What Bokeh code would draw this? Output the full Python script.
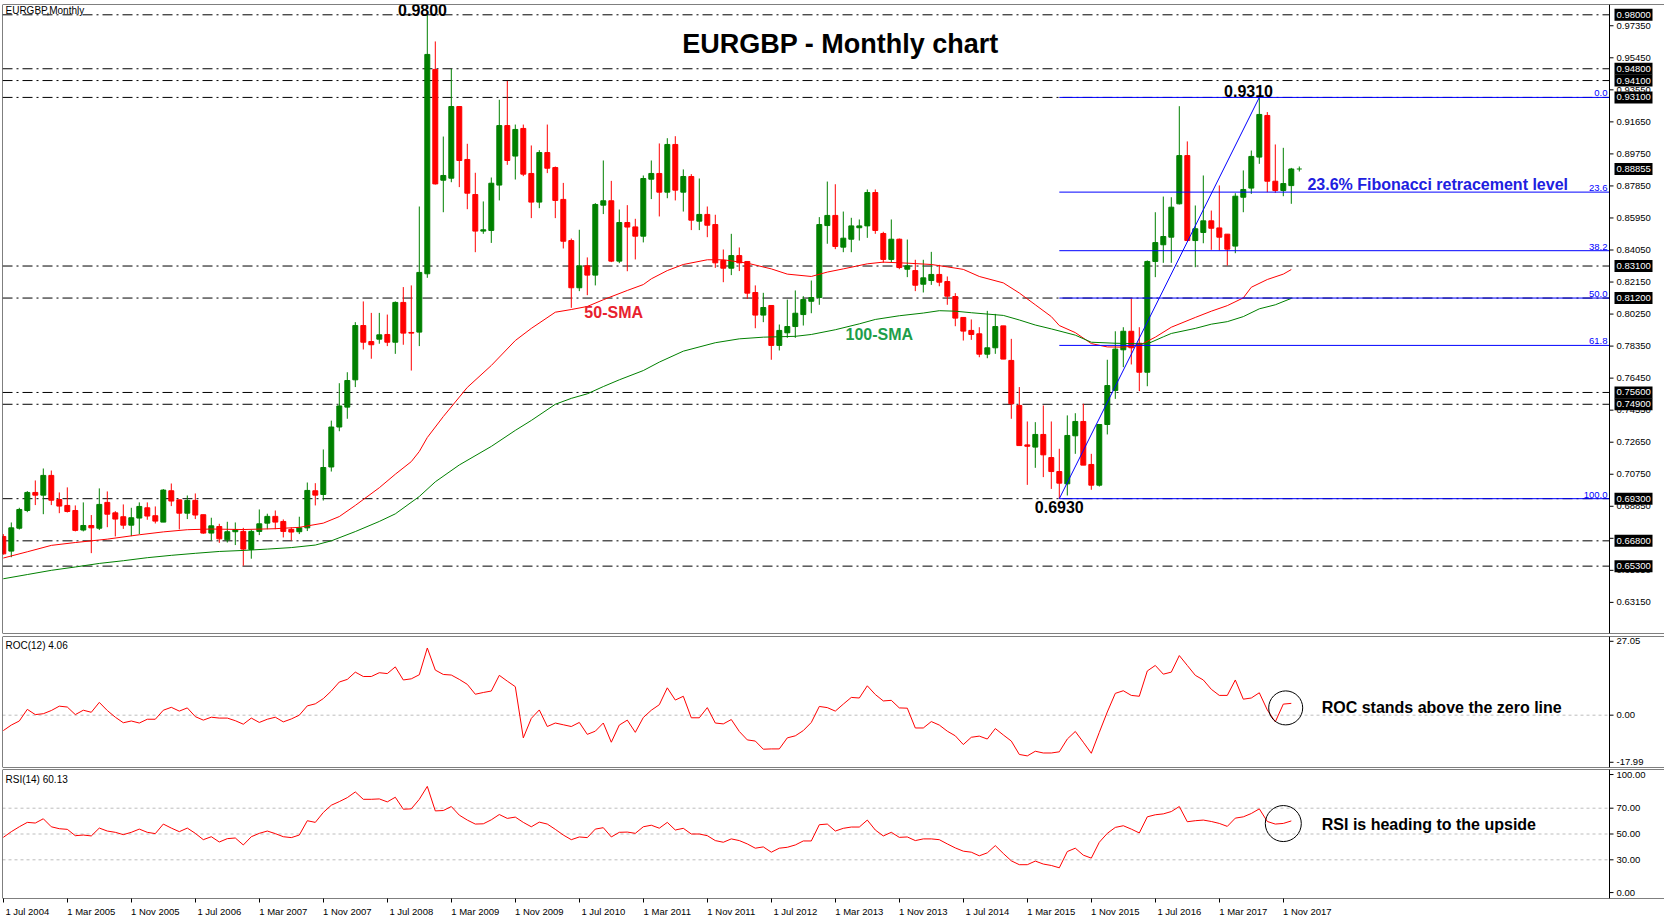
from bokeh.plotting import figure
from bokeh.models import ColumnDataSource, FixedTicker, Label, Span, Range1d
from bokeh.layouts import column
from bokeh.embed import file_html
from bokeh.resources import INLINE
from bokeh.core.properties import value

# ---------------- data (monthly EURGBP, Jul 2004 .. Dec 2017) ----------------
open_ = [0.6706, 0.6619, 0.6755, 0.6860, 0.6967, 0.6951, 0.7068, 0.6925, 0.6890, 0.6860,
         0.6744, 0.6771, 0.6755, 0.6908, 0.6846, 0.6823, 0.6773, 0.6815, 0.6876, 0.6829,
         0.6791, 0.6977, 0.6923, 0.6844, 0.6920, 0.6835, 0.6726, 0.6765, 0.6686, 0.6734,
         0.6736, 0.6629, 0.6736, 0.6785, 0.6825, 0.6795, 0.6748, 0.6734, 0.6757, 0.6977,
         0.6955, 0.7118, 0.7355, 0.7473, 0.7635, 0.7957, 0.7862, 0.7876, 0.7904, 0.7858,
         0.8094, 0.7916, 0.7918, 0.8264, 0.9476, 0.8819, 0.8831, 0.9256, 0.8942, 0.8734,
         0.8517, 0.8521, 0.8790, 0.9143, 0.8962, 0.9126, 0.8859, 0.8689, 0.8983, 0.8894,
         0.8705, 0.8461, 0.8181, 0.8311, 0.8256, 0.8671, 0.8697, 0.8339, 0.8568, 0.8542,
         0.8487, 0.8825, 0.8859, 0.8748, 0.9031, 0.8748, 0.8841, 0.8576, 0.8616, 0.8556,
         0.8343, 0.8297, 0.8372, 0.8337, 0.8153, 0.8019, 0.8076, 0.7839, 0.7914, 0.7951,
         0.8022, 0.8101, 0.8123, 0.8550, 0.8610, 0.8422, 0.8469, 0.8537, 0.8548, 0.8746,
         0.8503, 0.8349, 0.8469, 0.8291, 0.8283, 0.8202, 0.8224, 0.8260, 0.8218, 0.8129,
         0.8005, 0.7928, 0.7908, 0.7787, 0.7825, 0.7955, 0.7750, 0.7483, 0.7249, 0.7236,
         0.7311, 0.7174, 0.7091, 0.7018, 0.7303, 0.7388, 0.7133, 0.7010, 0.7370, 0.7572,
         0.7813, 0.7923, 0.7852, 0.7680, 0.8337, 0.8436, 0.8481, 0.8679, 0.8965, 0.8461,
         0.8509, 0.8578, 0.8536, 0.8499, 0.8428, 0.8718, 0.8772, 0.8956, 0.9203, 0.8813,
         0.8758, 0.8787]
high = [0.6720, 0.6789, 0.6876, 0.6975, 0.7038, 0.7109, 0.7097, 0.6967, 0.6997, 0.6890,
        0.6908, 0.6833, 0.6991, 0.6973, 0.6856, 0.6896, 0.6876, 0.6908, 0.6908, 0.6884,
        0.6987, 0.7020, 0.6923, 0.6949, 0.6961, 0.6835, 0.6817, 0.6781, 0.6793, 0.6789,
        0.6757, 0.6746, 0.6866, 0.6841, 0.6860, 0.6807, 0.6759, 0.6823, 0.7026, 0.7022,
        0.7222, 0.7393, 0.7615, 0.7680, 0.7977, 0.8100, 0.8032, 0.8032, 0.8022, 0.8100,
        0.8185, 0.8195, 0.8663, 0.9800, 0.9642, 0.9078, 0.9480, 0.9256, 0.9035, 0.8863,
        0.8693, 0.8835, 0.9296, 0.9408, 0.9149, 0.9149, 0.9025, 0.8997, 0.9149, 0.8900,
        0.8803, 0.8473, 0.8525, 0.8361, 0.8683, 0.8936, 0.8815, 0.8645, 0.8671, 0.8590,
        0.8847, 0.8936, 0.9037, 0.9068, 0.9080, 0.8883, 0.8855, 0.8829, 0.8663, 0.8614,
        0.8408, 0.8501, 0.8420, 0.8337, 0.8195, 0.8151, 0.8076, 0.7963, 0.8111, 0.8165,
        0.8131, 0.8224, 0.8600, 0.8811, 0.8795, 0.8633, 0.8596, 0.8586, 0.8764, 0.8764,
        0.8513, 0.8586, 0.8473, 0.8467, 0.8347, 0.8347, 0.8394, 0.8317, 0.8248, 0.8149,
        0.8005, 0.7993, 0.7947, 0.8044, 0.8026, 0.7955, 0.7878, 0.7592, 0.7388, 0.7384,
        0.7483, 0.7388, 0.7226, 0.7424, 0.7437, 0.7493, 0.7196, 0.7370, 0.7754, 0.7923,
        0.7947, 0.8119, 0.7947, 0.8343, 0.8629, 0.8722, 0.8718, 0.9258, 0.9049, 0.8669,
        0.8847, 0.8639, 0.8788, 0.8499, 0.8742, 0.8877, 0.8995, 0.9310, 0.9223, 0.9031,
        0.9011, 0.8892]
low = [0.6598, 0.6583, 0.6747, 0.6850, 0.6892, 0.6838, 0.6892, 0.6844, 0.6848, 0.6736,
       0.6736, 0.6607, 0.6744, 0.6761, 0.6706, 0.6751, 0.6708, 0.6720, 0.6805, 0.6783,
       0.6791, 0.6886, 0.6748, 0.6809, 0.6809, 0.6722, 0.6682, 0.6668, 0.6670, 0.6655,
       0.6532, 0.6574, 0.6714, 0.6749, 0.6749, 0.6700, 0.6682, 0.6720, 0.6738, 0.6890,
       0.6919, 0.7091, 0.7330, 0.7404, 0.7592, 0.7815, 0.7760, 0.7849, 0.7835, 0.7789,
       0.7843, 0.7690, 0.7835, 0.8240, 0.8793, 0.8629, 0.8807, 0.8778, 0.8647, 0.8392,
       0.8501, 0.8447, 0.8699, 0.8910, 0.8823, 0.8843, 0.8594, 0.8653, 0.8861, 0.8594,
       0.8414, 0.8062, 0.8161, 0.8137, 0.8195, 0.8618, 0.8333, 0.8327, 0.8279, 0.8349,
       0.8450, 0.8707, 0.8604, 0.8712, 0.8699, 0.8633, 0.8523, 0.8523, 0.8481, 0.8299,
       0.8214, 0.8256, 0.8280, 0.8115, 0.7941, 0.7977, 0.7754, 0.7809, 0.7884, 0.7884,
       0.7957, 0.8030, 0.8080, 0.8442, 0.8410, 0.8392, 0.8392, 0.8461, 0.8477, 0.8501,
       0.8329, 0.8329, 0.8291, 0.8244, 0.8161, 0.8153, 0.8198, 0.8190, 0.8080, 0.7953,
       0.7868, 0.7872, 0.7769, 0.7763, 0.7789, 0.7758, 0.7404, 0.7245, 0.7012, 0.7113,
       0.7058, 0.6988, 0.6930, 0.6949, 0.7196, 0.7129, 0.6983, 0.7002, 0.7311, 0.7522,
       0.7710, 0.7726, 0.7568, 0.7597, 0.8244, 0.8329, 0.8329, 0.8675, 0.8461, 0.8303,
       0.8445, 0.8406, 0.8402, 0.8313, 0.8386, 0.8629, 0.8738, 0.8916, 0.8748, 0.8744,
       0.8724, 0.8679]
close = [0.6603, 0.6757, 0.6866, 0.6967, 0.6951, 0.7068, 0.6921, 0.6886, 0.6854, 0.6742,
         0.6771, 0.6757, 0.6896, 0.6838, 0.6809, 0.6773, 0.6817, 0.6884, 0.6827, 0.6797,
         0.6981, 0.6916, 0.6844, 0.6920, 0.6833, 0.6726, 0.6769, 0.6692, 0.6734, 0.6746,
         0.6631, 0.6736, 0.6781, 0.6825, 0.6791, 0.6736, 0.6732, 0.6757, 0.6979, 0.6951,
         0.7115, 0.7355, 0.7480, 0.7631, 0.7957, 0.7858, 0.7843, 0.7902, 0.7858, 0.8094,
         0.7912, 0.7912, 0.8272, 0.9565, 0.8797, 0.8847, 0.9256, 0.8936, 0.8742, 0.8517,
         0.8525, 0.8801, 0.9143, 0.8936, 0.9120, 0.8855, 0.8689, 0.8983, 0.8890, 0.8699,
         0.8457, 0.8181, 0.8311, 0.8256, 0.8675, 0.8697, 0.8339, 0.8568, 0.8541, 0.8487,
         0.8829, 0.8859, 0.8748, 0.9031, 0.8760, 0.8841, 0.8582, 0.8616, 0.8552, 0.8329,
         0.8297, 0.8372, 0.8329, 0.8149, 0.8019, 0.8064, 0.7839, 0.7928, 0.7951, 0.8030,
         0.8111, 0.8123, 0.8556, 0.8610, 0.8426, 0.8475, 0.8548, 0.8548, 0.8746, 0.8521,
         0.8349, 0.8469, 0.8301, 0.8311, 0.8196, 0.8240, 0.8260, 0.8214, 0.8131, 0.8001,
         0.7924, 0.7904, 0.7787, 0.7825, 0.7951, 0.7758, 0.7493, 0.7245, 0.7241, 0.7311,
         0.7190, 0.7091, 0.7022, 0.7305, 0.7388, 0.7129, 0.7010, 0.7370, 0.7601, 0.7817,
         0.7923, 0.7825, 0.7680, 0.8337, 0.8449, 0.8485, 0.8659, 0.8965, 0.8461, 0.8531,
         0.8578, 0.8534, 0.8481, 0.8410, 0.8724, 0.8764, 0.8960, 0.9209, 0.8813, 0.8758,
         0.8799, 0.88855]

# 50-SMA and 100-SMA (month index, value)
sma50_month = [0, 3, 6, 9, 13, 17, 20, 23, 26, 30, 34, 37, 40, 42, 44, 47, 49, 51, 52, 53,
               55, 58, 61, 64, 66, 69, 71, 73, 75, 78, 80, 81, 83, 85, 88, 90, 93, 96, 98, 101,
               103, 105, 108, 110, 113, 116, 118, 120, 122, 125, 127, 129, 131, 132, 134, 136,
               138, 140, 142, 144, 146, 149, 151, 153, 155, 156, 158, 160, 161]
sma50_value = [0.6578, 0.6615, 0.6653, 0.6670, 0.6690, 0.6716, 0.6733, 0.6746, 0.6750, 0.6747,
               0.6752, 0.6760, 0.6785, 0.6824, 0.6890, 0.6995, 0.7075, 0.7150, 0.7210, 0.7293,
               0.7417, 0.7590, 0.7720, 0.7868, 0.7940, 0.8036, 0.8052, 0.8070, 0.8110, 0.8165,
               0.8200, 0.8234, 0.8283, 0.8319, 0.8347, 0.8347, 0.8327, 0.8293, 0.8262, 0.8248,
               0.8274, 0.8293, 0.8323, 0.8333, 0.8327, 0.8319, 0.8305, 0.8290, 0.8248, 0.8210,
               0.8150, 0.8080, 0.8010, 0.7957, 0.7915, 0.7850, 0.7830, 0.7829, 0.7839, 0.7888,
               0.7947, 0.8005, 0.8042, 0.8075, 0.8121, 0.8184, 0.8230, 0.8262, 0.8289]
sma100_month = [0, 3, 6, 9, 12, 15, 18, 21, 24, 27, 30, 33, 36, 39, 41, 44, 47, 49, 52, 54,
                57, 61, 64, 66, 69, 71, 73, 75, 77, 80, 82, 85, 89, 92, 95, 99, 101, 104, 107,
                109, 112, 115, 117, 119, 121, 125, 127, 129, 131, 134, 136, 139, 143, 145, 146,
                149, 151, 153, 155, 157, 159, 161]
sma100_value = [0.6455, 0.6480, 0.6505, 0.6525, 0.6546, 0.6562, 0.6580, 0.6594, 0.6606, 0.6617,
                0.6623, 0.6631, 0.6640, 0.6655, 0.6680, 0.6735, 0.6795, 0.6840, 0.6943, 0.7030,
                0.7130, 0.7240, 0.7335, 0.7394, 0.7490, 0.7525, 0.7552, 0.7595, 0.7635, 0.7690,
                0.7740, 0.7805, 0.7855, 0.7878, 0.7888, 0.7893, 0.7904, 0.7932, 0.7967, 0.7993,
                0.8015, 0.8031, 0.8045, 0.8042, 0.8033, 0.8017, 0.7990, 0.7960, 0.7937, 0.7900,
                0.7858, 0.7852, 0.7848, 0.7890, 0.7910, 0.7940, 0.7965, 0.7980, 0.8010, 0.8056,
                0.8080, 0.8118]

roc12 = [-5.3, -3.4, -2.0, 2.0, 0.2, 0.5, 1.6, 3.1, 2.8, 0.2,
         1.7, 1.0, 4.4, 1.6, -0.7, -2.6, -2.0, -2.7, -1.4, -1.4,
         1.7, 2.7, 1.4, 2.5, -0.5, -1.7, -0.7, -1.0, -1.0, -1.9,
         -3.1, -1.0, -2.5, -1.4, -0.7, -2.3, -1.3, 0.0, 3.2, 3.9,
         5.7, 8.3, 11.4, 12.3, 14.8, 13.3, 13.3, 14.6, 14.3, 16.6,
         12.1, 12.5, 13.9, 23.1, 15.5, 14.0, 13.8, 12.3, 10.6, 7.2,
         7.8, 8.3, 13.7, 11.7, 9.8, -7.8, -1.1, 1.8, -3.9, -2.7,
         -3.3, -3.9, -2.5, -6.6, -5.5, -2.7, -9.3, -3.4, -1.7, -5.9,
         -0.8, 1.7, 3.6, 9.4, 5.2, 6.5, -0.9, -0.9, 2.6, -2.7,
         -3.0, -1.5, -5.6, -8.5, -8.9, -11.7, -11.6, -11.6, -7.8, -7.1,
         -5.3, -2.5, 3.0, 2.6, 1.4, 3.8, 6.1, 5.9, 10.1, 7.1,
         4.9, 5.1, 2.5, 2.4, -4.4, -4.4, -2.2, -3.4, -5.5, -7.1,
         -10.1, -7.6, -7.2, -8.2, -4.6, -6.8, -8.9, -13.5, -14.0, -12.4,
         -13.0, -13.0, -12.6, -8.2, -5.6, -9.3, -13.1, -5.9, 1.1, 7.5,
         8.4, 6.8, 6.5, 15.2, 17.1, 14.1, 14.8, 20.5, 17.1, 13.7,
         12.1, 8.9, 6.8, 6.8, 12.1, 5.5, 5.9, 7.7, 1.8, -2.3,
         3.8, 4.06]
rsi14 = [47.4, 51.8, 55.6, 59.0, 58.5, 61.8, 55.6, 54.1, 53.6, 48.7,
         49.2, 48.5, 54.6, 52.3, 51.3, 49.5, 51.3, 53.8, 51.3, 50.3,
         57.7, 54.6, 51.8, 54.6, 50.5, 45.6, 47.9, 43.8, 46.4, 46.9,
         41.5, 47.9, 50.5, 52.3, 50.3, 47.9, 47.2, 49.2, 60.3, 59.0,
         66.7, 72.3, 75.1, 78.2, 82.6, 76.9, 76.9, 77.2, 74.9, 78.5,
         69.2, 69.5, 76.9, 86.9, 67.9, 68.2, 71.3, 64.6, 60.8, 57.7,
         57.9, 61.0, 65.1, 62.1, 63.1, 59.0, 55.6, 59.2, 57.7, 53.6,
         49.2, 45.6, 47.7, 47.2, 53.8, 54.9, 47.7, 51.3, 51.5, 50.5,
         55.6, 56.8, 54.5, 59.0, 53.1, 54.4, 50.0, 50.0, 48.7, 44.9,
         43.6, 46.2, 44.9, 42.3, 39.0, 40.0, 35.9, 39.0, 39.7, 41.5,
         44.6, 44.6, 57.2, 57.7, 52.3, 54.4, 55.4, 55.4, 60.8, 53.1,
         48.5, 51.3, 47.4, 47.7, 44.9, 46.2, 46.2, 45.6, 42.3, 39.2,
         36.7, 35.9, 33.1, 35.4, 41.0, 34.9, 29.2, 26.2, 26.2, 29.0,
         26.7, 25.6, 23.8, 36.4, 39.0, 33.6, 31.3, 43.6, 50.5, 55.1,
         56.4, 53.8, 50.8, 63.3, 64.9, 65.6, 67.4, 71.3, 59.5, 60.3,
         60.8, 59.7, 58.2, 55.9, 62.3, 63.3, 65.9, 69.5, 59.7, 57.7,
         58.2, 60.13]

date_tick_month = [0, 8, 16, 24, 32, 40, 48, 56, 64, 72, 80, 88, 96, 104, 112, 120, 128,
                   136, 144, 152, 160]
date_tick_label = ["1 Jul 2004", "1 Mar 2005", "1 Nov 2005", "1 Jul 2006", "1 Mar 2007",
                   "1 Nov 2007", "1 Jul 2008", "1 Mar 2009", "1 Nov 2009", "1 Jul 2010",
                   "1 Mar 2011", "1 Nov 2011", "1 Jul 2012", "1 Mar 2013", "1 Nov 2013",
                   "1 Jul 2014", "1 Mar 2015", "1 Nov 2015", "1 Jul 2016", "1 Mar 2017",
                   "1 Nov 2017"]
price_ticks = [0.9735, 0.9545, 0.9355, 0.9165, 0.8975, 0.8785, 0.8595, 0.8405, 0.8215,
               0.8025, 0.7835, 0.7645, 0.7455, 0.7265, 0.7075, 0.6885, 0.6695, 0.6505, 0.6315]
key_levels = [0.9800, 0.9480, 0.9410, 0.9310, 0.8310, 0.8120, 0.7560, 0.7490, 0.6930,
              0.6680, 0.6530]
boxed_prices = [0.98000, 0.94800, 0.94100, 0.93100, 0.88855, 0.83100, 0.81200, 0.75600,
                0.74900, 0.69300, 0.66800, 0.65300]
fib_pct = [0.0, 23.6, 38.2, 50.0, 61.8, 100.0]
swing_low, swing_high = 0.6930, 0.9310
swing_low_idx, swing_high_idx = 132, 157
roc_scale_pos = [25.4, 0.0, -16.2]
roc_scale_txt = ["27.05", "0.00", "-17.99"]
rsi_scale_pos = [96.1, 70, 50, 30, 4.6]
rsi_scale_txt = ["100.00", "70.00", "50.00", "30.00", "0.00"]
rsi_levels = [70, 50, 30]

# ---------------- styling ----------------
FONT = "Liberation Sans"
GREEN = "#008000"
RED = "#ff0000"
BLUE = "#0000ff"

n = len(close)
idx = list(range(n))
colors = [GREEN if c >= o else RED for o, c in zip(open_, close)]
src = ColumnDataSource(dict(x=idx, h=high, l=low,
                            top=[max(o, c) for o, c in zip(open_, close)],
                            bot=[min(o, c) for o, c in zip(open_, close)],
                            color=colors))

X0 = -0.1
PX = 8.0                              # pixels per month
PANEL_END = X0 + 1607 / PX            # right border of the chart area
xr = Range1d(X0, X0 + 1662 / PX)      # shared: chart area + price scale column
TICK_END = PANEL_END + 4 / PX
LAB_X = PANEL_END + 7 / PX


def make_fig(height, yr, top, bottom, xaxis):
    f = figure(width=1664, height=height, x_range=xr, y_range=yr,
               output_backend="svg", toolbar_location=None,
               x_axis_location="below" if xaxis else None, y_axis_location=None,
               min_border_left=2, min_border_right=0, min_border_top=top,
               min_border_bottom=bottom, background_fill_color="white",
               border_fill_color="white")
    f.grid.visible = False
    f.outline_line_color = None
    for loc, dim in ((yr.end, "width"), (yr.start, "width"),
                     (X0, "height"), (PANEL_END, "height")):
        f.add_layout(Span(location=loc, dimension=dim, line_color="black", line_width=1))
    return f


def scale_column(f, pos, txt):
    f.segment(x0=[PANEL_END] * len(pos), x1=[TICK_END] * len(pos), y0=pos, y1=pos,
              line_color="black", line_width=1)
    f.text(x=[LAB_X] * len(pos), y=pos, text=txt, text_font=value(FONT),
           text_font_size=value("9.5px"), text_color="black", text_align="left",
           text_baseline="middle")


def label(fig, x, y, text, size, color="black", bold=False, align="center",
          baseline="middle"):
    fig.add_layout(Label(x=x, y=y, text=text, text_font=FONT,
                         text_font_size=f"{size}px", text_color=color,
                         text_font_style="bold" if bold else "normal",
                         text_align=align, text_baseline=baseline))


# ---------------- main price panel ----------------
p = make_fig(635, Range1d(0.61304, 0.98611), 4, 2, False)

p.segment(x0=[X0] * len(key_levels), x1=[PANEL_END] * len(key_levels),
          y0=key_levels, y1=key_levels, line_color="black", line_width=1,
          line_dash="10 4 2 4")

p.segment(x0="x", y0="l", x1="x", y1="h", color="color", line_width=1, source=src)
p.vbar(x="x", width=0.62, top="top", bottom="bot", fill_color="color",
       line_color="color", line_width=1, source=src)

p.line(sma50_month, sma50_value, color=RED, line_width=1)
p.line(sma100_month, sma100_value, color=GREEN, line_width=1)

fib_levels = [swing_high - f / 100.0 * (swing_high - swing_low) for f in fib_pct]
p.segment(x0=[swing_low_idx] * len(fib_levels), x1=[PANEL_END] * len(fib_levels),
          y0=fib_levels, y1=fib_levels, color=BLUE, line_width=1)
p.line([swing_low_idx, swing_high_idx], [swing_low, swing_high], color=BLUE, line_width=1)
p.text(x=[PANEL_END - 0.25] * len(fib_levels), y=fib_levels,
       text=[f"{f:.1f}" for f in fib_pct], text_font=value(FONT),
       text_font_size=value("9.5px"), text_color=BLUE, text_align="right",
       text_baseline="bottom", y_offset=-1)

p.scatter([n], [close[-1]], marker="cross", size=5, color=GREEN)

scale_column(p, price_ticks, [f"{t:.5f}" for t in price_ticks])
p.rect(x=[PANEL_END + 24 / PX] * len(boxed_prices), y=boxed_prices, width=38, height=12,
       width_units="screen", height_units="screen", fill_color="black", line_color=None)
p.text(x=[LAB_X] * len(boxed_prices), y=boxed_prices, text=[f"{b:.5f}" for b in boxed_prices],
       text_font=value(FONT), text_font_size=value("9.5px"), text_color="white",
       text_align="left", text_baseline="middle")

label(p, 0.275, 0.98255, "EURGBP,Monthly", 10, align="left")
label(p, 104.65, 0.96268, "EURGBP - Monthly chart", 27, bold=True)
label(p, 52.4, 0.98314, "0.9800", 16, bold=True)
label(p, 155.65, 0.93504, "0.9310", 16, bold=True)
label(p, 132.0, 0.68778, "0.6930", 16, bold=True)
label(p, 76.3, 0.80355, "50-SMA", 16, color="#e8212e", bold=True)
label(p, 109.5, 0.79050, "100-SMA", 16, color="#1e9e4a", bold=True)
label(p, 179.3, 0.87935, "23.6% Fibonacci retracement level", 16, color="#2020e0", bold=True)

# ---------------- ROC panel ----------------
roc_fig = make_fig(133, Range1d(-17.99, 27.05), 1, 1, False)
roc_fig.segment(x0=[X0], x1=[PANEL_END], y0=[0], y1=[0], line_color="#bdbdbd",
                line_width=1, line_dash="3 3")
roc_fig.line(idx, roc12, color=RED, line_width=1)
scale_column(roc_fig, roc_scale_pos, roc_scale_txt)
roc_fig.scatter([160.3], [2.5], marker="circle", size=34, fill_color=None,
                line_color="black", line_width=1)
label(roc_fig, 0.275, 23.9, "ROC(12) 4.06", 10, align="left")
label(roc_fig, 179.8, 2.6, "ROC stands above the zero line", 16, bold=True)

# ---------------- RSI panel ----------------
rsi_fig = make_fig(151, Range1d(0, 100), 1, 21, True)
rsi_fig.segment(x0=[X0] * 3, x1=[PANEL_END] * 3, y0=rsi_levels, y1=rsi_levels,
                line_color="#bdbdbd", line_width=1, line_dash="3 3")
rsi_fig.line(idx, rsi14, color=RED, line_width=1)
scale_column(rsi_fig, rsi_scale_pos, rsi_scale_txt)
rsi_fig.scatter([160.0], [58.1], marker="circle", size=36, fill_color=None,
                line_color="black", line_width=1)
label(rsi_fig, 0.275, 92.2, "RSI(14) 60.13", 10, align="left")
label(rsi_fig, 178.2, 57.7, "RSI is heading to the upside", 16, bold=True)

xa = rsi_fig.xaxis[0]
label_pos = [m + 3 for m in date_tick_month]
xa.ticker = FixedTicker(ticks=label_pos, minor_ticks=date_tick_month)
xa.major_label_overrides = {pos: txt for pos, txt in zip(label_pos, date_tick_label)}
xa.major_tick_line_color = None
xa.major_tick_out = 0
xa.major_tick_in = 0
xa.minor_tick_line_color = "black"
xa.minor_tick_out = 4
xa.minor_tick_in = 0
xa.axis_line_color = None
xa.major_label_standoff = 3
xa.major_label_text_font = FONT
xa.major_label_text_font_size = "9.5px"
xa.major_label_text_color = "black"

layout = column(p, roc_fig, rsi_fig, spacing=0)
open("out.html", "w").write(file_html(layout, INLINE))
